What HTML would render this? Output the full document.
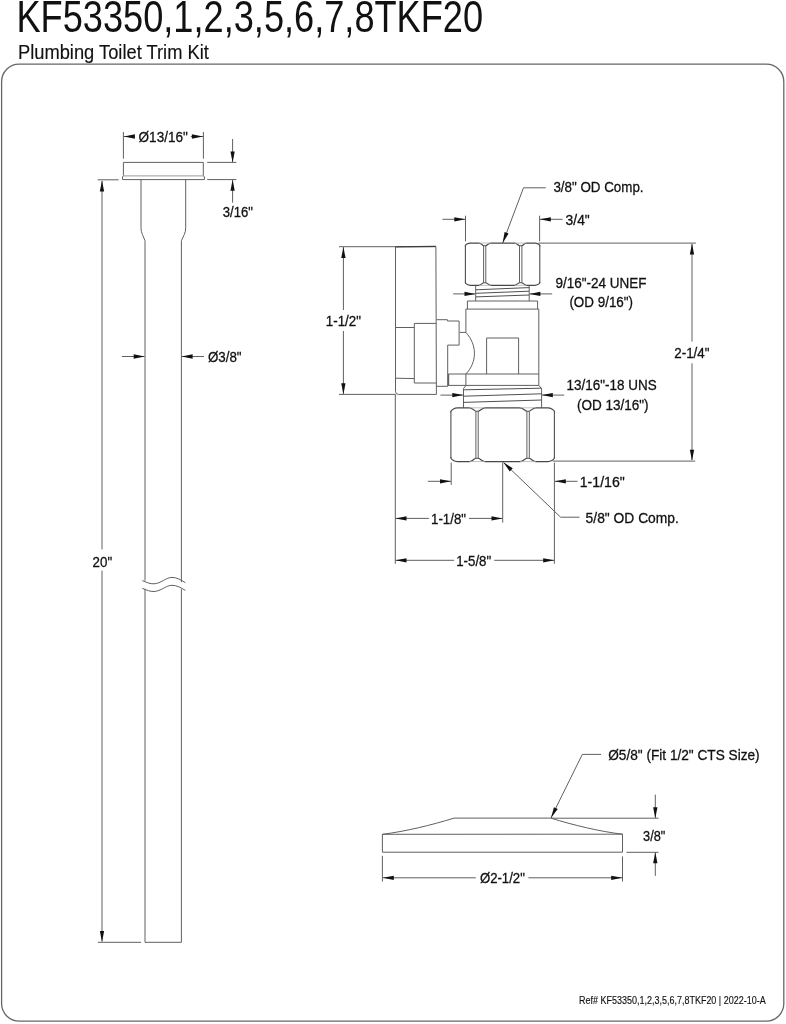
<!DOCTYPE html>
<html><head><meta charset="utf-8"><title>KF53350 Plumbing Toilet Trim Kit</title>
<style>html,body{margin:0;padding:0;background:#fff;} svg{display:block;font-family:"Liberation Sans",sans-serif;-webkit-font-smoothing:antialiased;} text{will-change:transform;}</style>
</head><body>
<svg width="786" height="1024" viewBox="0 0 786 1024">
<rect x="1.6" y="64.1" width="782.2" height="957" rx="17.5" ry="17.5" fill="none" stroke="#666" stroke-width="1.3"/>
<path d="M123.4 175.7 V162.4 H203.3 V175.7" stroke="#606060" stroke-width="1.0" fill="none"/>
<path d="M123.4 175.8 L122.5 177 V179.6 H204.4 V177 L203.4 175.8" stroke="#606060" stroke-width="1.0" fill="none"/>
<path d="M123.4 175.9 H203.3" stroke="#9a9a9a" stroke-width="1.0" fill="none"/>
<path d="M141 179.6 V227.8 Q141 231.5 142.4 234.5 L145 240.7 V580.8" stroke="#606060" stroke-width="1.0" fill="none"/>
<path d="M185.7 179.6 V227.8 Q185.7 231.5 184.3 234.5 L181.4 240.7 V582.2" stroke="#606060" stroke-width="1.0" fill="none"/>
<path d="M142.3 580.6 C147 582.5 150 584 154 583.8 C161 583.5 166 577.4 172 577.4 C177 577.4 181 580 185.4 582.7" stroke="#606060" stroke-width="1.0" fill="none"/>
<path d="M142.3 588.3 C147 590.2 150 591.7 154 591.5 C161 591.2 166 585.3 172 585.3 C177 585.3 181 587.8 185.4 590.4" stroke="#606060" stroke-width="1.0" fill="none"/>
<path d="M145 588.8 V942.3 H181.4 V589.2" stroke="#606060" stroke-width="1.0" fill="none"/>
<line x1="123.4" y1="132" x2="123.4" y2="158.7" stroke="#606060" stroke-width="1.0"/>
<line x1="203.4" y1="132" x2="203.4" y2="158.7" stroke="#606060" stroke-width="1.0"/>
<line x1="123.4" y1="136.5" x2="134.8" y2="136.5" stroke="#606060" stroke-width="1.0"/>
<polygon points="123.90,136.50 134.90,134.35 134.90,138.65" fill="#111"/>
<line x1="190.8" y1="136.5" x2="203.4" y2="136.5" stroke="#606060" stroke-width="1.0"/>
<polygon points="202.90,136.50 191.90,134.35 191.90,138.65" fill="#111"/>
<line x1="207.2" y1="162.4" x2="236.4" y2="162.4" stroke="#606060" stroke-width="1.0"/>
<line x1="207.2" y1="179.6" x2="236.4" y2="179.6" stroke="#606060" stroke-width="1.0"/>
<line x1="232.6" y1="139" x2="232.6" y2="162" stroke="#606060" stroke-width="1.0"/>
<polygon points="232.60,162.40 230.45,151.40 234.75,151.40" fill="#111"/>
<line x1="232.6" y1="180" x2="232.6" y2="202.7" stroke="#606060" stroke-width="1.0"/>
<polygon points="232.60,179.80 230.45,190.80 234.75,190.80" fill="#111"/>
<line x1="97.7" y1="179.8" x2="118.7" y2="179.8" stroke="#606060" stroke-width="1.0"/>
<line x1="97.8" y1="942.3" x2="141.1" y2="942.3" stroke="#606060" stroke-width="1.0"/>
<line x1="102.0" y1="181" x2="102.0" y2="549.3" stroke="#606060" stroke-width="1.0"/>
<polygon points="102.00,180.50 99.85,191.50 104.15,191.50" fill="#111"/>
<line x1="102.0" y1="570.7" x2="102.0" y2="941.5" stroke="#606060" stroke-width="1.0"/>
<polygon points="102.00,942.00 99.85,931.00 104.15,931.00" fill="#111"/>
<line x1="121.9" y1="356.5" x2="144.5" y2="356.5" stroke="#606060" stroke-width="1.0"/>
<polygon points="144.70,356.50 133.70,354.35 133.70,358.65" fill="#111"/>
<line x1="181.6" y1="356.5" x2="204.0" y2="356.5" stroke="#606060" stroke-width="1.0"/>
<polygon points="181.60,356.50 192.60,354.35 192.60,358.65" fill="#111"/>
<path d="M339 246.7 H395.5" stroke="#606060" stroke-width="1.0" fill="none"/>
<path d="M395.5 246.7 H435.9 L436.4 394.4 H398.5 Q395.5 394.4 395.5 391.4 Z" stroke="#606060" stroke-width="1.0" fill="none"/>
<path d="M395.5 246.9 L435.9 246.4" stroke="#3c3c3c" stroke-width="1.3" fill="none"/>
<line x1="339" y1="394.4" x2="395.5" y2="394.4" stroke="#606060" stroke-width="1.0"/>
<line x1="395.5" y1="327.5" x2="414.3" y2="327.5" stroke="#606060" stroke-width="1.0"/>
<line x1="395.5" y1="378.2" x2="414.3" y2="378.6" stroke="#606060" stroke-width="1.0"/>
<path d="M414.3 383 V323.4 H436.2" stroke="#606060" stroke-width="1.0" fill="none"/>
<path d="M414.3 383 H436.3" stroke="#606060" stroke-width="1.0" fill="none"/>
<line x1="343.4" y1="247" x2="343.4" y2="310" stroke="#606060" stroke-width="1.0"/>
<polygon points="343.40,246.90 341.25,257.90 345.55,257.90" fill="#111"/>
<line x1="343.4" y1="331" x2="343.4" y2="394" stroke="#606060" stroke-width="1.0"/>
<polygon points="343.40,394.20 341.25,383.20 345.55,383.20" fill="#111"/>
<path d="M436.4 319.7 H447.4 V321 H459.1 V345.1 H447.7 V386.3 H436.4" stroke="#606060" stroke-width="1.0" fill="none"/>
<path d="M448.5 374 V385.4" stroke="#606060" stroke-width="1.4" fill="none"/>
<path d="M459.7 332.4 H465.9 C477.3 345 477.3 362 465.9 374" stroke="#606060" stroke-width="1.0" fill="none"/>
<path d="M465.9 309.1 V332.4 M465.9 374 V385.4" stroke="#606060" stroke-width="1.0" fill="none"/>
<path d="M538.8 309.1 V385.4" stroke="#606060" stroke-width="1.0" fill="none"/>
<path d="M448.3 374 H538.8 M447.7 385.4 H538.8" stroke="#606060" stroke-width="1.0" fill="none"/>
<path d="M465.9 309.1 H538.8" stroke="#606060" stroke-width="1.0" fill="none"/>
<path d="M486.6 374 V338 H518.6 V374" stroke="#606060" stroke-width="1.0" fill="none"/>
<path d="M467.4 309.1 V301 H537.6 V309.1" stroke="#606060" stroke-width="1.0" fill="none"/>
<path d="M475.7 301 V285.3 M529.2 285.3 V301" stroke="#606060" stroke-width="1.0" fill="none"/>
<path d="M475.7 289.8 L529.2 287.6 M475.7 293.3 L529.2 291.2 M475.7 296.9 L529.2 295.0" stroke="#505050" stroke-width="1.0" fill="none"/>
<path d="M465.4 246.6 L465.4 245.6 C465.4 244.85 468.03999999999996 243.1 470.2 243.1 L479.1 243.1 C481.35 243.1 482.475 245.7 483.6 245.7 L485.8 245.7 C487.05 245.7 488.3 243.1 490.8 243.1 L514.5 243.1 C517.0 243.1 518.25 245.7 519.5 245.7 L521.9 245.7 C523.025 245.7 524.15 243.1 526.4 243.1 L535.0 243.1 C537.16 243.1 539.8 244.85 539.8 245.6 L539.8 246.6" stroke="#484848" stroke-width="1.15" fill="none"/>
<path d="M465.4 281.8 L465.4 282.8 C465.4 283.55 468.03999999999996 285.3 470.2 285.3 L479.1 285.3 C481.35 285.3 482.475 282.7 483.6 282.7 L485.8 282.7 C487.05 282.7 488.3 285.3 490.8 285.3 L514.5 285.3 C517.0 285.3 518.25 282.7 519.5 282.7 L521.9 282.7 C523.025 282.7 524.15 285.3 526.4 285.3 L535.0 285.3 C537.16 285.3 539.8 283.55 539.8 282.8 L539.8 281.8" stroke="#484848" stroke-width="1.15" fill="none"/>
<path d="M479.1 243.1 H490.8 M514.5 243.1 H526.4 M479.1 285.3 H490.8 M514.5 285.3 H526.4" stroke="#b0b0b0" stroke-width="0.8" fill="none"/>
<path d="M465.4 245.6 V282.8 M539.8 245.6 V282.8" stroke="#505050" stroke-width="1.1" fill="none"/>
<path d="M483.6 245.7 V282.7 M485.8 245.7 V282.7 M519.5 245.7 V282.7 M521.9 245.7 V282.7" stroke="#606060" stroke-width="1.0" fill="none"/>
<path d="M466 385.4 L463.5 388.6 V407.8 M538.8 385.4 L541.6 388.6 V407.8" stroke="#606060" stroke-width="1.0" fill="none"/>
<path d="M463.5 389.8 L541.6 388.2 M463.5 396.2 L541.6 393.8 M463.5 402.4 L541.6 400.0" stroke="#505050" stroke-width="1.0" fill="none"/>
<path d="M450.9 412.3 L450.9 411.3 C450.9 410.25 454.47499999999997 407.8 457.4 407.8 L469.4 407.8 C472.65 407.8 474.275 411.2 475.9 411.2 L478.2 411.2 C479.95 411.2 481.7 407.8 485.2 407.8 L519.9 407.8 C523.4 407.8 525.15 411.2 526.9 411.2 L529.3 411.2 C530.925 411.2 532.55 407.8 535.8 407.8 L547.9 407.8 C550.8249999999999 407.8 554.4 410.25 554.4 411.3 L554.4 412.3" stroke="#484848" stroke-width="1.15" fill="none"/>
<path d="M450.9 457.1 L450.9 458.1 C450.9 459.15000000000003 454.47499999999997 461.6 457.4 461.6 L469.4 461.6 C472.65 461.6 474.275 458.20000000000005 475.9 458.20000000000005 L478.2 458.20000000000005 C479.95 458.20000000000005 481.7 461.6 485.2 461.6 L519.9 461.6 C523.4 461.6 525.15 458.20000000000005 526.9 458.20000000000005 L529.3 458.20000000000005 C530.925 458.20000000000005 532.55 461.6 535.8 461.6 L547.9 461.6 C550.8249999999999 461.6 554.4 459.15000000000003 554.4 458.1 L554.4 457.1" stroke="#484848" stroke-width="1.15" fill="none"/>
<path d="M469.4 407.8 H485.2 M519.9 407.8 H535.8 M469.4 461.6 H485.2 M519.9 461.6 H535.8" stroke="#b0b0b0" stroke-width="0.8" fill="none"/>
<path d="M450.9 411.3 V458.1 M554.4 411.3 V458.1" stroke="#505050" stroke-width="1.1" fill="none"/>
<path d="M475.9 411.2 V458.20000000000005 M478.2 411.2 V458.20000000000005 M526.9 411.2 V458.20000000000005 M529.3 411.2 V458.20000000000005" stroke="#606060" stroke-width="1.0" fill="none"/>
<line x1="465.5" y1="215.7" x2="465.5" y2="241.3" stroke="#606060" stroke-width="1.0"/>
<line x1="539.6" y1="215.7" x2="539.6" y2="241.3" stroke="#606060" stroke-width="1.0"/>
<line x1="442.4" y1="219.3" x2="465" y2="219.3" stroke="#606060" stroke-width="1.0"/>
<polygon points="465.30,219.30 454.30,217.15 454.30,221.45" fill="#111"/>
<line x1="540" y1="219.3" x2="562.6" y2="219.3" stroke="#606060" stroke-width="1.0"/>
<polygon points="539.80,219.30 550.80,217.15 550.80,221.45" fill="#111"/>
<line x1="502.7" y1="243" x2="523.5" y2="187.8" stroke="#606060" stroke-width="1.0"/>
<line x1="523.5" y1="187.8" x2="545.8" y2="187.8" stroke="#606060" stroke-width="1.0"/>
<polygon points="502.70,243.00 508.59,233.46 504.57,231.95" fill="#111"/>
<line x1="538.4" y1="243.1" x2="695.9" y2="243.1" stroke="#606060" stroke-width="1.0"/>
<line x1="692" y1="244" x2="692" y2="341.6" stroke="#606060" stroke-width="1.0"/>
<polygon points="692.00,243.60 689.85,254.60 694.15,254.60" fill="#111"/>
<line x1="692" y1="363.3" x2="692" y2="460" stroke="#606060" stroke-width="1.0"/>
<polygon points="692.00,460.70 689.85,449.70 694.15,449.70" fill="#111"/>
<line x1="552.7" y1="461.1" x2="695.2" y2="461.1" stroke="#606060" stroke-width="1.0"/>
<line x1="453.2" y1="293.9" x2="475" y2="293.9" stroke="#606060" stroke-width="1.0"/>
<polygon points="475.50,293.90 464.50,291.75 464.50,296.05" fill="#111"/>
<line x1="529.5" y1="293.9" x2="552.2" y2="293.9" stroke="#606060" stroke-width="1.0"/>
<polygon points="529.40,293.90 540.40,291.75 540.40,296.05" fill="#111"/>
<line x1="440.4" y1="395.1" x2="463" y2="395.1" stroke="#606060" stroke-width="1.0"/>
<polygon points="463.30,395.10 452.30,392.95 452.30,397.25" fill="#111"/>
<line x1="541.8" y1="395.1" x2="564.2" y2="395.1" stroke="#606060" stroke-width="1.0"/>
<polygon points="541.80,395.10 552.80,392.95 552.80,397.25" fill="#111"/>
<line x1="451.2" y1="462.6" x2="451.2" y2="484.8" stroke="#606060" stroke-width="1.0"/>
<line x1="554.4" y1="462.6" x2="554.4" y2="563.8" stroke="#606060" stroke-width="1.0"/>
<line x1="427.8" y1="481.3" x2="451" y2="481.3" stroke="#606060" stroke-width="1.0"/>
<polygon points="451.00,481.30 440.00,479.15 440.00,483.45" fill="#111"/>
<line x1="554.8" y1="481.3" x2="577.5" y2="481.3" stroke="#606060" stroke-width="1.0"/>
<polygon points="554.80,481.30 565.80,479.15 565.80,483.45" fill="#111"/>
<line x1="395.3" y1="394.4" x2="395.3" y2="563.8" stroke="#606060" stroke-width="1.0"/>
<line x1="502.7" y1="462.6" x2="502.7" y2="522.6" stroke="#606060" stroke-width="1.0"/>
<line x1="395.3" y1="518.4" x2="428.9" y2="518.4" stroke="#606060" stroke-width="1.0"/>
<polygon points="395.50,518.40 406.50,516.25 406.50,520.55" fill="#111"/>
<line x1="469" y1="518.4" x2="502.5" y2="518.4" stroke="#606060" stroke-width="1.0"/>
<polygon points="502.50,518.40 491.50,516.25 491.50,520.55" fill="#111"/>
<line x1="395.3" y1="560.3" x2="454.1" y2="560.3" stroke="#606060" stroke-width="1.0"/>
<polygon points="395.50,560.30 406.50,558.15 406.50,562.45" fill="#111"/>
<line x1="494.2" y1="560.3" x2="554.2" y2="560.3" stroke="#606060" stroke-width="1.0"/>
<polygon points="554.20,560.30 543.20,558.15 543.20,562.45" fill="#111"/>
<line x1="503.5" y1="462.5" x2="560.6" y2="517.2" stroke="#606060" stroke-width="1.0"/>
<line x1="560.6" y1="517.2" x2="579.5" y2="517.2" stroke="#606060" stroke-width="1.0"/>
<polygon points="503.30,462.30 509.76,471.46 512.73,468.36" fill="#111"/>
<path d="M382.4 834.3 V852.2 H622.5 V834.2 Z" stroke="#606060" stroke-width="1.0" fill="none"/>
<path d="M382.4 834.3 C405 831.5 432 825 454 818.1 H550.8 C572.8 825 599.9 831.5 622.5 834.2" stroke="#606060" stroke-width="1.0" fill="none"/>
<line x1="382.4" y1="855.8" x2="382.4" y2="881.6" stroke="#606060" stroke-width="1.0"/>
<line x1="622.5" y1="856.4" x2="622.5" y2="881.6" stroke="#606060" stroke-width="1.0"/>
<line x1="383" y1="877.8" x2="475.8" y2="877.8" stroke="#606060" stroke-width="1.0"/>
<polygon points="382.80,877.80 393.80,875.65 393.80,879.95" fill="#111"/>
<line x1="528.3" y1="877.8" x2="622" y2="877.8" stroke="#606060" stroke-width="1.0"/>
<polygon points="622.20,877.80 611.20,875.65 611.20,879.95" fill="#111"/>
<line x1="550.8" y1="818.2" x2="658.5" y2="818.2" stroke="#606060" stroke-width="1.0"/>
<line x1="626.4" y1="852.3" x2="658.5" y2="852.3" stroke="#606060" stroke-width="1.0"/>
<line x1="655.3" y1="794.6" x2="655.3" y2="818" stroke="#606060" stroke-width="1.0"/>
<polygon points="655.30,818.20 653.15,807.20 657.45,807.20" fill="#111"/>
<line x1="655.3" y1="852.5" x2="655.3" y2="875.9" stroke="#606060" stroke-width="1.0"/>
<polygon points="655.30,852.30 653.15,863.30 657.45,863.30" fill="#111"/>
<line x1="551" y1="817.8" x2="582.3" y2="754.4" stroke="#606060" stroke-width="1.0"/>
<line x1="582.3" y1="754.4" x2="601" y2="754.4" stroke="#606060" stroke-width="1.0"/>
<polygon points="551.00,818.00 557.79,809.08 553.93,807.18" fill="#111"/>
<text transform="translate(16.46,32.10) scale(0.8133,1)" font-size="44.5" fill="#111">KF53350,1,2,3,5,6,7,8TKF20</text>
<text transform="translate(18.01,58.50) scale(0.8930,1)" font-size="20.5" fill="#111" stroke="#111" stroke-width="0.15">Plumbing Toilet Trim Kit</text>
<text transform="translate(138.60,141.50) scale(0.8909,1)" font-size="15.2" fill="#111" stroke="#111" stroke-width="0.3">Ø13/16&quot;</text>
<text transform="translate(222.80,217.30) scale(0.8629,1)" font-size="15.2" fill="#111" stroke="#111" stroke-width="0.3">3/16&quot;</text>
<text transform="translate(207.90,361.80) scale(0.8789,1)" font-size="15.2" fill="#111" stroke="#111" stroke-width="0.3">Ø3/8&quot;</text>
<text transform="translate(92.60,567.00) scale(0.8773,1)" font-size="15.2" fill="#111" stroke="#111" stroke-width="0.3">20&quot;</text>
<text transform="translate(553.40,191.60) scale(0.8804,1)" font-size="15.2" fill="#111" stroke="#111" stroke-width="0.3">3/8&quot; OD Comp.</text>
<text transform="translate(565.60,224.70) scale(0.9115,1)" font-size="15.2" fill="#111" stroke="#111" stroke-width="0.3">3/4&quot;</text>
<text transform="translate(555.40,288.30) scale(0.8893,1)" font-size="15.2" fill="#111" stroke="#111" stroke-width="0.3">9/16&quot;-24 UNEF</text>
<text transform="translate(569.40,307.40) scale(0.8833,1)" font-size="15.2" fill="#111" stroke="#111" stroke-width="0.3">(OD 9/16&quot;)</text>
<text transform="translate(325.82,325.80) scale(0.8795,1)" font-size="15.2" fill="#111" stroke="#111" stroke-width="0.3">1-1/2&quot;</text>
<text transform="translate(674.30,357.90) scale(0.8800,1)" font-size="15.2" fill="#111" stroke="#111" stroke-width="0.3">2-1/4&quot;</text>
<text transform="translate(566.61,390.00) scale(0.8861,1)" font-size="15.2" fill="#111" stroke="#111" stroke-width="0.3">13/16&quot;-18 UNS</text>
<text transform="translate(576.90,409.60) scale(0.8900,1)" font-size="15.2" fill="#111" stroke="#111" stroke-width="0.3">(OD 13/16&quot;)</text>
<text transform="translate(579.77,486.60) scale(0.9277,1)" font-size="15.2" fill="#111" stroke="#111" stroke-width="0.3">1-1/16&quot;</text>
<text transform="translate(431.03,523.70) scale(0.8744,1)" font-size="15.2" fill="#111" stroke="#111" stroke-width="0.3">1-1/8&quot;</text>
<text transform="translate(585.60,523.30) scale(0.9108,1)" font-size="15.2" fill="#111" stroke="#111" stroke-width="0.3">5/8&quot; OD Comp.</text>
<text transform="translate(456.23,565.60) scale(0.8744,1)" font-size="15.2" fill="#111" stroke="#111" stroke-width="0.3">1-5/8&quot;</text>
<text transform="translate(608.20,759.70) scale(0.8982,1)" font-size="15.2" fill="#111" stroke="#111" stroke-width="0.3">Ø5/8&quot; (Fit 1/2&quot; CTS Size)</text>
<text transform="translate(643.10,840.80) scale(0.8385,1)" font-size="15.2" fill="#111" stroke="#111" stroke-width="0.3">3/8&quot;</text>
<text transform="translate(479.90,883.20) scale(0.8673,1)" font-size="15.2" fill="#111" stroke="#111" stroke-width="0.3">Ø2-1/2&quot;</text>
<text transform="translate(579.10,1004.00) scale(0.8175,1)" font-size="11" fill="#111" stroke="#111" stroke-width="0.15">Ref# KF53350,1,2,3,5,6,7,8TKF20 | 2022-10-A</text>
</svg>
</body></html>
